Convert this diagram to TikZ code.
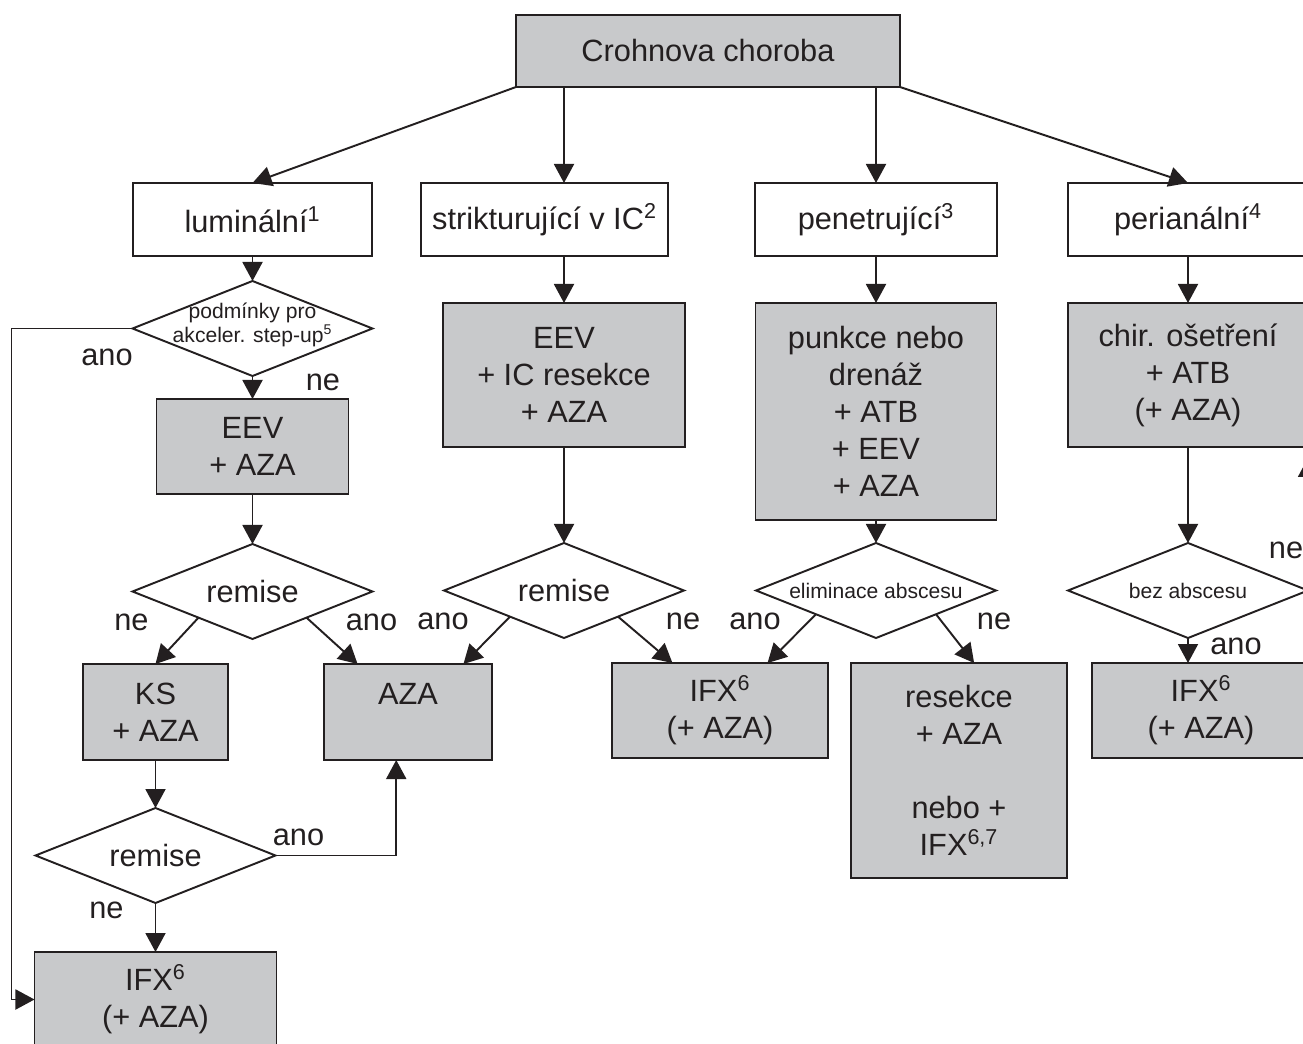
\documentclass[tikz,border=0pt]{standalone}
\usepackage{fontspec}
\setmainfont{Liberation Sans}
\usepackage{xcolor}
\usepackage{tikz}
\usetikzlibrary{shapes.geometric, arrows.meta, positioning, calc}
\definecolor{boxgray}{RGB}{200,201,203}
\definecolor{ink}{RGB}{35,31,32}
\tikzset{
    headbox/.style={
        rectangle,
        draw=ink,
        line width=1.1pt,
        outer sep=0pt,
        minimum width=4.8cm,
        minimum height=1.46cm,
        fill=white,
        text=ink,
        font=\fontsize{17.5}{21}\selectfont
    },
    therapy/.style={
        rectangle,
        draw=ink,
        line width=1.1pt,
        outer sep=0pt,
        fill=boxgray,
        align=center,
        inner sep=0pt,
        text=ink,
        font=\fontsize{17.5}{21}\selectfont
    },
    decision/.style={
        diamond,
        aspect=2.5,
        draw=ink,
        line width=1.1pt,
        outer sep=0pt,
        minimum width=4.8cm,
        minimum height=1.9cm,
        inner sep=0pt,
        fill=white,
        text=ink,
        font=\fontsize{17.5}{21}\selectfont
    },
    smalltext/.style={
        font=\fontsize{12}{13.7}\selectfont,
        text=ink,
        align=center,
        inner sep=0pt
    },
    answer/.style={
        font=\fontsize{17.5}{21}\selectfont,
        text=ink,
        inner sep=0pt
    },
    wire/.style={
        draw=ink,
        line width=1.1pt,
        -{Triangle[length=0.38cm,width=0.4cm]}
    }
}

\begin{document}
\begin{tikzpicture}

\useasboundingbox (0,0) rectangle (26.06,-20.88);
\clip (0,0) rectangle (26.06,-20.88);

% Root
\node[therapy, minimum width=7.68cm, minimum height=1.44cm] (cb) at (14.16,-1.02) {Crohnova choroba};

% Phenotypes
\node[headbox, below=1.92cm of cb, xshift=-9.11cm, minimum width=4.78cm] (lum) {luminální\textsuperscript{1}};
\node[headbox, below=1.92cm of cb, xshift=-3.27cm, minimum width=4.94cm] (strik) {strikturující v IC\textsuperscript{2}};
\node[headbox, below=1.92cm of cb, xshift=3.36cm, minimum width=4.84cm] (pen) {penetrující\textsuperscript{3}};
\node[headbox, below=1.92cm of cb, xshift=9.6cm] (peri) {perianální\textsuperscript{4}};

% Luminal branch
\node[decision, below=0.5cm of lum] (lumd) {};
\node[smalltext, yshift=0.07cm] (lumdtext) at (lumd) {podmínky pro\\akceler. step-up\textsuperscript{5}};
\node[therapy, below=0.46cm of lumd, minimum width=3.84cm, minimum height=1.9cm] (leev) {EEV\\+ AZA};
\node[decision, below=1.0cm of leev] (lrem) {remise};
\node[therapy, below=0.5cm of lrem, xshift=-1.94cm, minimum width=2.9cm, minimum height=1.92cm] (ks) {KS\\+ AZA};
\node[therapy, below=0.5cm of lrem, xshift=3.11cm, minimum width=3.36cm, minimum height=1.92cm] (aza) {AZA\\~};
\node[decision, below=0.96cm of ks] (lrem2) {remise};
\node[therapy, below=0.98cm of lrem2, minimum width=4.84cm, minimum height=1.9cm] (ifxb) {IFX\textsuperscript{6}\\(+ AZA)};

% Stricturing branch
\node[therapy, below=0.94cm of strik, xshift=0.39cm, minimum width=4.84cm, minimum height=2.88cm] (seev) {EEV\\+ IC resekce\\+ AZA};
\node[decision, below=1.92cm of seev] (srem) {remise};
\node[therapy, below=0.5cm of srem, xshift=3.12cm, minimum width=4.32cm, minimum height=1.9cm] (ifxm) {IFX\textsuperscript{6}\\(+ AZA)};

% Penetrating branch
\node[therapy, below=0.94cm of pen, minimum width=4.82cm, minimum height=4.34cm] (pbox) {punkce nebo\\drenáž\\+ ATB\\+ EEV\\+ AZA};
\node[decision, below=0.46cm of pbox, font=\fontsize{12}{13.7}\selectfont] (elim) {eliminace abscesu};
\node[therapy, below=0.5cm of elim, xshift=1.66cm, minimum width=4.32cm, minimum height=4.3cm] (res) {resekce\\+ AZA\\~\\nebo +\\IFX\textsuperscript{6,7}};

% Perianal branch
\node[therapy, below=0.94cm of peri, minimum width=4.8cm, minimum height=2.88cm] (chir) {chir. ošetření\\+ ATB\\(+ AZA)};
\node[decision, below=1.92cm of chir, font=\fontsize{12}{13.7}\selectfont] (bez) {bez abscesu};
\node[therapy, below=0.5cm of bez, xshift=0.26cm, minimum width=4.36cm, minimum height=1.9cm] (ifxr) {IFX\textsuperscript{6}\\(+ AZA)};
\coordinate (peribk) at ($(chir.south east)+(0,-0.22)$);

% Answers
\node[answer] (lumdyes) at ([shift={(-0.51,-0.57)}]lumd.west) {ano};
\node[answer] (lumdno) at ([shift={(1.41,-0.12)}]lumd.south) {ne};
\node[answer] (lremno) at ([shift={(-0.02,-0.61)}]lrem.west) {ne};
\node[answer] (lremyes) at ([shift={(-0.02,-0.61)}]lrem.east) {ano};
\node[answer] (sremyes) at ([shift={(-0.02,-0.61)}]srem.west) {ano};
\node[answer] (sremno) at ([shift={(-0.02,-0.61)}]srem.east) {ne};
\node[answer] (elimyes) at ([shift={(-0.02,-0.61)}]elim.west) {ano};
\node[answer] (elimno) at ([shift={(-0.04,-0.61)}]elim.east) {ne};
\node[answer] (bezno) at ([shift={(-0.44,0.81)}]bez.east) {ne};
\node[answer] (bezyes) at ([shift={(0.96,-0.16)}]bez.south) {ano};
\node[answer] (lrem2yes) at ([shift={(0.46,0.36)}]lrem2.east) {ano};
\node[answer] (lrem2no) at ([shift={(-0.98,-0.14)}]lrem2.south) {ne};

% Root to phenotypes
\draw[wire] (cb.south west) -- (lum.north);
\draw[wire] (cb.south -| seev) -- (strik.north -| seev);
\draw[wire] (cb.south -| pen) -- (pen.north);
\draw[wire] (cb.south east) -- (peri.north);

% Luminal
\draw[wire] (lum.south) -- (lumd.north);
\draw[wire] (lumd.south) -- (leev.north);
\draw[wire] (lumd.west) -- ++(-2.42,0) |- (ifxb.west);
\draw[wire] (leev.south) -- (lrem.north);
\draw[wire] ($(lrem.west)!0.55!(lrem.south)$) -- (ks.north);
\draw[wire] ($(lrem.east)!0.55!(lrem.south)$) -- ($(aza.north west)!0.2!(aza.north east)$);
\draw[wire] (ks.south) -- (lrem2.north);
\draw[wire] (lrem2.east) -| ($(aza.south west)!0.43!(aza.south east)$);
\draw[wire] (lrem2.south) -- (ifxb.north);

% Stricturing
\draw[wire] (strik.south -| seev) -- (seev.north);
\draw[wire] (seev.south) -- (srem.north);
\draw[wire] ($(srem.west)!0.55!(srem.south)$) -- ($(aza.north west)!0.83!(aza.north east)$);
\draw[wire] ($(srem.east)!0.55!(srem.south)$) -- ($(ifxm.north west)!0.28!(ifxm.north east)$);

% Penetrating
\draw[wire] (pen.south) -- (pbox.north);
\draw[wire] (pbox.south) -- (elim.north);
\draw[wire] ($(elim.west)!0.5!(elim.south)$) -- ($(ifxm.north west)!0.72!(ifxm.north east)$);
\draw[wire] ($(elim.east)!0.5!(elim.south)$) -- ($(res.north west)!0.57!(res.north east)$);

% Perianal
\draw[wire] (peri.south) -- (chir.north);
\draw[wire] (chir.south) -- (bez.north);
\draw[wire] (bez.south) -- (bez.south |- ifxr.north);
\draw[wire] (bez.east) -- (peribk);

\end{tikzpicture}
\end{document}
